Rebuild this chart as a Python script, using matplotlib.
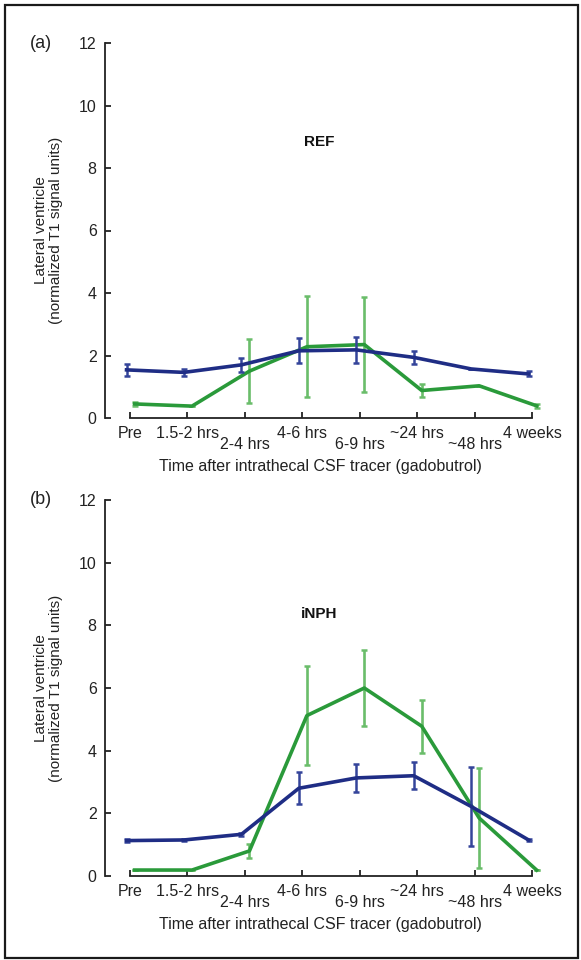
import numpy as np
import matplotlib.pyplot as plt
from matplotlib.patches import Rectangle
from matplotlib.transforms import ScaledTranslation

plt.rcParams['font.family'] = ['Liberation Sans', 'DejaVu Sans']

# --- DATA ---
time_labels = ['Pre', '1.5-2 hrs', '2-4 hrs', '4-6 hrs', '6-9 hrs', '~24 hrs', '~48 hrs', '4 weeks']

# panel (a) REF
ref_blue = [1.54, 1.46, 1.70, 2.15, 2.18, 1.94, 1.57, 1.41]
ref_blue_err = [0.18, 0.10, 0.23, 0.40, 0.42, 0.21, 0.0, 0.08]
ref_green = [0.45, 0.38, 1.50, 2.28, 2.35, 0.88, 1.03, 0.39]
ref_green_err = [0.05, 0.0, 1.02, 1.62, 1.53, 0.20, 0.0, 0.06]

# panel (b) iNPH
inph_blue = [1.13, 1.15, 1.33, 2.80, 3.13, 3.20, 2.22, 1.15]
inph_blue_err = [0.06, 0.04, 0.05, 0.51, 0.46, 0.43, 1.25, 0.04]
inph_green = [0.19, 0.19, 0.80, 5.12, 6.00, 4.78, 1.85, 0.19]
inph_green_err = [0.0, 0.0, 0.21, 1.58, 1.20, 0.85, 1.60, 0.0]

BLUE = '#1f2d85'
BLUE_ERR = '#34449a'
GREEN = '#2a9a3a'
GREEN_ERR = '#6abd6a'
TXT = '#222222'

W, H = 581, 960
fig = plt.figure(figsize=(W / 100, H / 100), dpi=100)

# outer frame
fig.patches.append(Rectangle((5 / W, 2 / H), 573 / W, 953 / H, transform=fig.transFigure,
                             fill=False, edgecolor='#1a1a1a', linewidth=1.6))

x = np.arange(len(time_labels))


def draw_panel(rect, blue, blue_err, green, green_err, title, tag):
    ax = fig.add_axes(rect)
    ax.errorbar(x - 0.06, blue, yerr=blue_err, color=BLUE, ecolor=BLUE_ERR,
                lw=2.6, elinewidth=1.8, capsize=2.5, capthick=1.8, zorder=3)
    ax.errorbar(x + 0.08, green, yerr=green_err, color=GREEN, ecolor=GREEN_ERR,
                lw=2.6, elinewidth=1.9, capsize=2.5, capthick=1.8, zorder=2)

    ax.set_xlim(-0.435, 7.226)
    ax.set_ylim(0, 12)
    ax.set_yticks([0, 2, 4, 6, 8, 10, 12])
    ax.set_xticks(x)
    ax.set_xticklabels(time_labels)

    for s in ['top', 'right']:
        ax.spines[s].set_visible(False)
    ax.spines['left'].set_linewidth(1.3)
    ax.spines['bottom'].set_linewidth(1.3)
    ax.spines['bottom'].set_bounds(0, 7)
    for s in ['left', 'bottom']:
        ax.spines[s].set_color('#222222')

    ax.tick_params(axis='y', direction='in', length=4.5, width=1.3, pad=6,
                   labelsize=11.5, colors=TXT)
    ax.tick_params(axis='x', direction='in', length=4, width=1.3, pad=6,
                   labelsize=11.5, colors=TXT)

    # stagger every other time label
    shift = ScaledTranslation(0, -11 / 100, fig.dpi_scale_trans)
    for i, lab in enumerate(ax.get_xticklabels()):
        if i in (2, 4, 6):
            lab.set_transform(lab.get_transform() + shift)

    ax.set_ylabel('Lateral ventricle\n(normalized T1 signal units)', fontsize=11,
                  color=TXT, linespacing=1.1)
    ax.yaxis.set_label_coords(-0.095, 0.5)
    ax.set_xlabel('Time after intrathecal CSF tracer (gadobutrol)', fontsize=11.5, color=TXT)
    ax.xaxis.set_label_coords(0.489, -0.11)

    ax.text(3.3, 8.36 if tag == '(b)' else 8.83, title, fontsize=11, fontweight='bold',
            ha='center', va='center', color='#111111')
    ax.text(-0.12, 1.0, tag, transform=ax.transAxes, fontsize=13, color=TXT,
            ha='right', va='center')
    return ax


draw_panel([105 / W, 1 - 418 / H, 440 / W, 375 / H],
           ref_blue, ref_blue_err, ref_green, ref_green_err, 'REF', '(a)')
draw_panel([105 / W, 1 - 876 / H, 440 / W, 376 / H],
           inph_blue, inph_blue_err, inph_green, inph_green_err, 'iNPH', '(b)')

fig.savefig('out.png', dpi=100)
